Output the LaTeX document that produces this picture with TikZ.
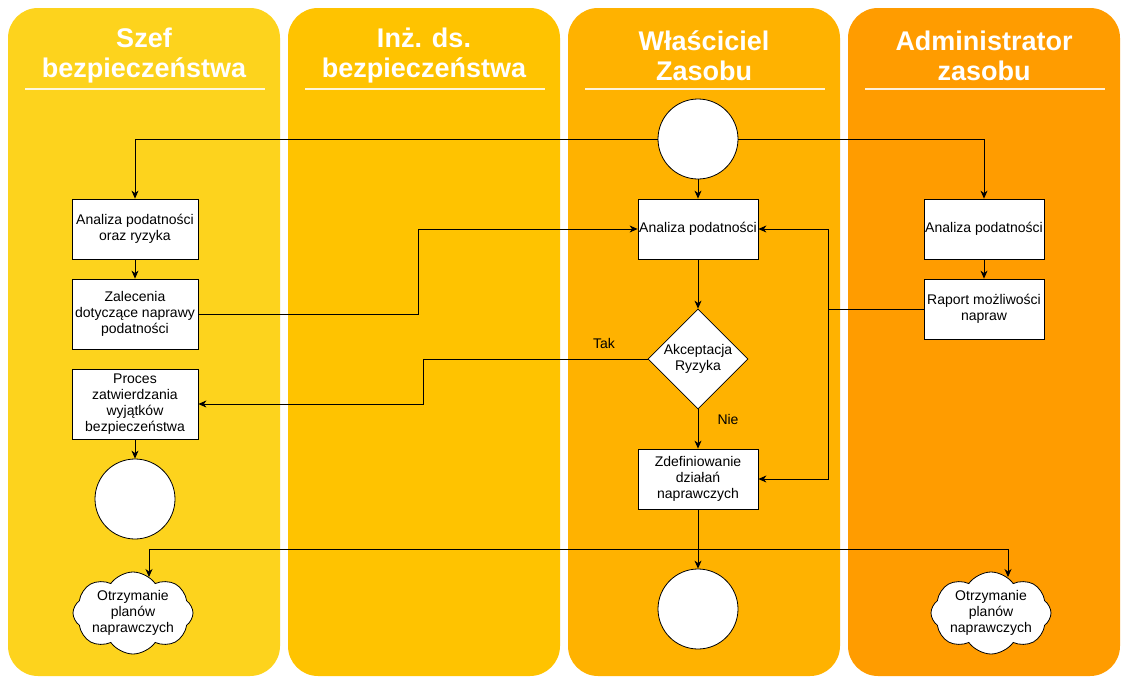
\documentclass[tikz,border=0pt]{standalone}
\usepackage{fontspec}
\setmainfont{Liberation Sans}
\usetikzlibrary{shapes.geometric,shapes.symbols,arrows.meta}
\definecolor{laneA}{HTML}{FDD31D}
\definecolor{laneB}{HTML}{FFC300}
\definecolor{laneC}{HTML}{FFB200}
\definecolor{laneD}{HTML}{FF9C00}
\begin{document}
\begin{tikzpicture}[x=1pt,y=-1pt,
  lanebox/.style={rounded corners=30pt},
  hdr/.style={text=white,font=\fontsize{27}{30}\selectfont\bfseries,align=center,inner sep=0pt},
  sepline/.style={white,opacity=0.85,line width=2pt},
  box/.style={draw=black,fill=white,line width=0.8pt,minimum width=120pt,minimum height=60pt,align=center,font=\fontsize{14}{16}\selectfont,inner sep=1pt},
  circ/.style={circle,draw=black,fill=white,line width=0.8pt,minimum size=80pt,inner sep=0pt},
  dia/.style={diamond,aspect=1,draw=black,fill=white,line width=0.8pt,minimum width=100pt,minimum height=100pt,inner sep=0pt,align=center,font=\fontsize{14}{16}\selectfont},
  cloudbox/.style={cloud,cloud puffs=8,cloud puff arc=110,aspect=1.5,draw=black,fill=white,line width=0.8pt,minimum width=120pt,minimum height=82pt,inner sep=0pt},
  txt/.style={align=center,font=\fontsize{14}{16}\selectfont,inner sep=0pt},
  arr/.style={draw=black,line width=0.8pt,-{Stealth[length=8pt,width=7pt,inset=2.5pt]}},
  ln/.style={draw=black,line width=0.8pt}
]
\useasboundingbox (0,0) rectangle (1128,683);
\fill[white] (0,0) rectangle (1128,683);
% lanes
\fill[laneA,lanebox] (8,8) rectangle (280,676);
\fill[laneB,lanebox] (288,8) rectangle (560,676);
\fill[laneC,lanebox] (568,8) rectangle (840,676);
\fill[laneD,lanebox] (848,8) rectangle (1120,676);
\node[hdr] (h1) at (144,56) {Szef\\bezpieczeństwa};
\node[hdr] (h2) at (424,56) {Inż. ds.\\bezpieczeństwa};
\node[hdr] (h3) at (704,56) {Właściciel\\Zasobu};
\node[hdr] (h4) at (984,56) {Administrator\\zasobu};
\draw[sepline] (25,89) -- (265,89);
\draw[sepline] (305,89) -- (545,89);
\draw[sepline] (585,89) -- (825,89);
\draw[sepline] (865,89) -- (1105,89);
% nodes
\node[circ] (s) at (698,139) {};
\node[box,minimum width=126pt] (a1) at (135,229) {Analiza podatności\\oraz ryzyka};
\node[box,minimum width=126pt,minimum height=70pt] (a2) at (135,314) {Zalecenia\\dotyczące naprawy\\podatności};
\node[box,minimum width=126pt,minimum height=70pt] (a3) at (135,404) {Proces\\zatwierdzania\\wyjątków\\bezpieczeństwa};
\node[circ] (c1) at (135,499) {};
\node[box] (w1) at (698,229) {Analiza podatności};
\node[dia] (d) at (698,359) {Akceptacja\\Ryzyka};
\node[box] (w3) at (698,479) {Zdefiniowanie\\działań\\naprawczych};
\node[circ] (e) at (698,609) {};
\node[box] (b1) at (984,229) {Analiza podatności};
\node[box] (b2) at (984,309) {Raport możliwości\\napraw};
\node[cloudbox] (cl1) at (133,613) {};
\node[txt] (t1) at (cl1.center) {Otrzymanie\\planów\\naprawczych};
\node[cloudbox] (cl2) at (991,613) {};
\node[txt] (t2) at (cl2.center) {Otrzymanie\\planów\\naprawczych};
% helper coordinates
\coordinate (j1) at (418,314);
\coordinate (j2) at (423,359);
\coordinate (j3) at (828,309);
\coordinate (j5) at (698,549);
\coordinate (c1in) at (149,577);
\coordinate (c2in) at (1008,577);
% connectors
\draw[arr] (s.west) -| (a1.north);
\draw[arr] (s.east) -| (b1.north);
\draw[arr] (s.south) -- (w1.north);
\draw[arr] (a1.south) -- (a2.north);
\draw[arr] (a2.east) -- (j1) |- (w1.west);
\draw[arr] (w1.south) -- (d.north);
\draw[arr] (d.west) -- (j2) |- (a3.east);
\node[txt] (tak) at (604,343) {Tak};
\draw[arr] (d.south) -- (w3.north);
\node[txt] (nie) at (728,419) {Nie};
\draw[arr] (b1.south) -- (b2.north);
\draw[arr] (b2.west) -- (j3) |- (w1.east);
\draw[arr] (j3) |- (w3.east);
\draw[arr] (a3.south) -- (c1.north);
\draw[arr] (w3.south) -- (e.north);
\draw[arr] (j5) -| (c1in);
\draw[arr] (j5) -| (c2in);
\end{tikzpicture}
\end{document}
